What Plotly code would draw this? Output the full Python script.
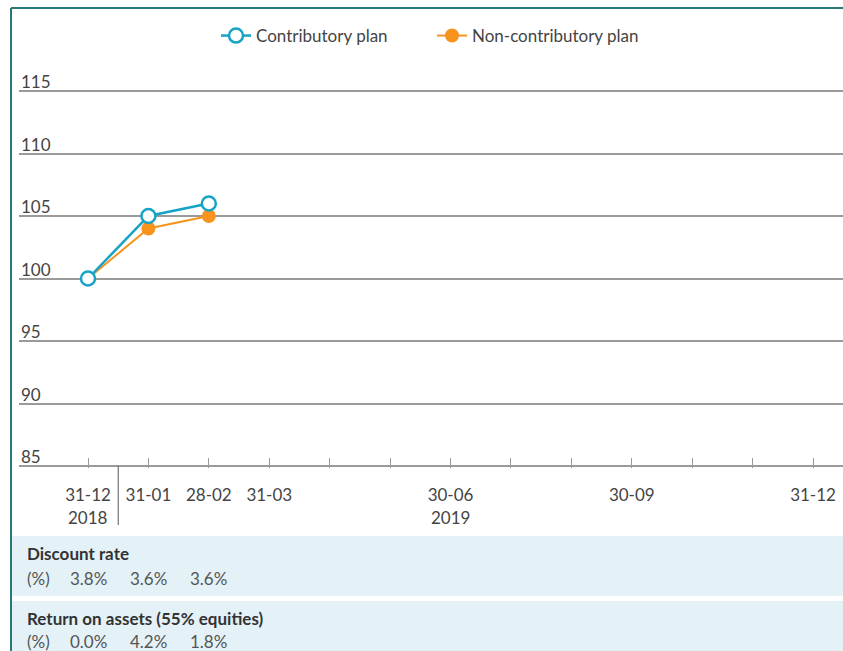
import plotly.graph_objects as go

# ---- data ----
x_index = list(range(13))
tick_labels = ["31-12", "31-01", "28-02", "31-03", "", "", "30-06", "", "", "30-09", "", "", "31-12"]
year_labels = {0: "2018", 6: "2019"}
contrib_x = [0, 1, 2]
contrib_y = [100, 105, 106]
noncontrib_x = [0, 1, 2]
noncontrib_y = [100, 104, 105]
y_ticks = [85, 90, 95, 100, 105, 110, 115]
discount_rate = ["3.8%", "3.6%", "3.6%"]
return_on_assets = ["0.0%", "4.2%", "1.8%"]

TEAL = "#16a3c6"
ORANGE = "#f7941d"
GRID = "#9a9a9a"
FONT = "Lato"
FS = 17

W, H = 843, 651
L, R, T, B = 19, 0, 89, 183
PW = W - L - R
PH = H - T - B
Y0, Y1 = 85 - 30 * 2 / 375, 115 + 30 * 2 / 375


def py(pix):
    return (H - B - pix) / PH


def px(pix):
    return (pix - L) / PW


fig = go.Figure()
fig.add_trace(go.Scatter(
    x=noncontrib_x, y=noncontrib_y, name="Non-contributory plan", mode="lines+markers",
    line=dict(color=ORANGE, width=2),
    marker=dict(symbol="circle", size=14, color=ORANGE),
))
fig.add_trace(go.Scatter(
    x=contrib_x, y=contrib_y, name="Contributory plan", mode="lines+markers",
    line=dict(color=TEAL, width=2.5),
    marker=dict(symbol="circle", size=14, color="white", line=dict(color=TEAL, width=2.5)),
))

shapes = []
annotations = []

# y tick labels above gridlines
for v in y_ticks:
    annotations.append(dict(x=0, xref="paper", y=v, yref="y", text=str(v), showarrow=False,
                            xanchor="left", yanchor="bottom", xshift=0, yshift=-3,
                            font=dict(family=FONT, size=FS, color="#444")))

# year labels
for i, yr in year_labels.items():
    annotations.append(dict(x=i, xref="x", y=py(517), yref="paper", text=yr, showarrow=False,
                            xanchor="center", yanchor="middle",
                            font=dict(family=FONT, size=FS, color="#444")))

# separator between years
shapes.append(dict(type="line", xref="x", yref="paper", x0=0.5, x1=0.5, y0=py(466), y1=py(525),
                   line=dict(color="#555", width=1)))

# bottom panels
shapes.append(dict(type="rect", xref="paper", yref="paper", x0=px(12), x1=1.0, y0=py(596), y1=py(536),
                   fillcolor="#e4f2f7", line=dict(width=0), layer="below"))
shapes.append(dict(type="rect", xref="paper", yref="paper", x0=px(12), x1=1.0, y0=py(680), y1=py(601),
                   fillcolor="#e4f2f7", line=dict(width=0), layer="below"))

annotations.append(dict(x=px(25), xref="paper", y=py(553), yref="paper", text="<b>Discount rate</b>",
                        showarrow=False, xanchor="left", yanchor="middle",
                        font=dict(family=FONT, size=FS, color="#333")))
annotations.append(dict(x=px(25), xref="paper", y=py(578), yref="paper", text="(%)",
                        showarrow=False, xanchor="left", yanchor="middle",
                        font=dict(family=FONT, size=FS, color="#555")))
for i, t in enumerate(discount_rate):
    annotations.append(dict(x=i, xref="x", y=py(578), yref="paper", text=t, showarrow=False,
                            xanchor="center", yanchor="middle",
                            font=dict(family=FONT, size=FS, color="#555")))

annotations.append(dict(x=px(25), xref="paper", y=py(618), yref="paper",
                        text="<b>Return on assets (55% equities)</b>",
                        showarrow=False, xanchor="left", yanchor="middle",
                        font=dict(family=FONT, size=FS, color="#333")))
annotations.append(dict(x=px(25), xref="paper", y=py(641), yref="paper", text="(%)",
                        showarrow=False, xanchor="left", yanchor="middle",
                        font=dict(family=FONT, size=FS, color="#555")))
for i, t in enumerate(return_on_assets):
    annotations.append(dict(x=i, xref="x", y=py(641), yref="paper", text=t, showarrow=False,
                            xanchor="center", yanchor="middle",
                            font=dict(family=FONT, size=FS, color="#555")))

# frame (left and top)
shapes.append(dict(type="line", xref="paper", yref="paper", x0=px(11), x1=px(11), y0=py(660), y1=py(8),
                   line=dict(color="#2a7878", width=2)))
shapes.append(dict(type="line", xref="paper", yref="paper", x0=px(11), x1=1.0, y0=py(8), y1=py(8),
                   line=dict(color="#2a7878", width=2)))

fig.update_layout(
    width=W, height=H,
    margin=dict(l=L, r=R, t=T, b=B, autoexpand=False),
    paper_bgcolor="white", plot_bgcolor="white",
    font=dict(family=FONT, size=FS, color="#444"),
    showlegend=True,
    legend=dict(orientation="h", x=px(432), xanchor="center", y=py(36), yanchor="middle",
                font=dict(family=FONT, size=FS, color="#444"), traceorder="reversed",
                itemwidth=30, entrywidth=171, bgcolor="rgba(0,0,0,0)"),
    shapes=shapes,
    annotations=annotations,
)
fig.update_xaxes(
    range=[-(88 - 19) / 60.42, 12 + (843 - 813) / 60.42],
    tickvals=x_index, ticktext=tick_labels,
    ticks="inside", ticklen=10, tickwidth=1, tickcolor=GRID,
    showgrid=False, zeroline=False, showline=False,
    tickfont=dict(family=FONT, size=FS, color="#444"),
    ticklabelstandoff=15,
)
fig.update_yaxes(
    range=[Y0, Y1], tickvals=y_ticks, showticklabels=False,
    showgrid=True, gridcolor=GRID, gridwidth=1.5, zeroline=False, showline=False,
)

fig.write_html("out.html", config={"displayModeBar": False},
               post_script="document.body.style.margin='0';document.body.style.overflow='hidden';")
